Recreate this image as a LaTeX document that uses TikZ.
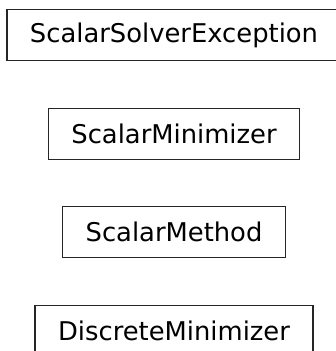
\documentclass[tikz,border=0pt]{standalone}
\usepackage{fontspec}
\setmainfont{DejaVu Sans}
\usepackage{tikz}
\usetikzlibrary{positioning}

\begin{document}
\begin{tikzpicture}[
    x=1pt, y=1pt,
    cls/.style={draw=black!85, line width=1.3pt, minimum height=51pt, inner xsep=23pt,
        font=\fontsize{25.8}{30}\selectfont},
]
\useasboundingbox (0,0) rectangle (336,351);
\clip (0,0) rectangle (336,351);

% classes of the module
\node[cls] (exception) at (174, 316) {ScalarSolverException};
\node[cls] (minimizer) at (174, 217) {ScalarMinimizer};
\node[cls] (method) at (174, 119) {ScalarMethod};
\node[cls] (discrete) at (174, 20) {DiscreteMinimizer};

\end{tikzpicture}
\end{document}
